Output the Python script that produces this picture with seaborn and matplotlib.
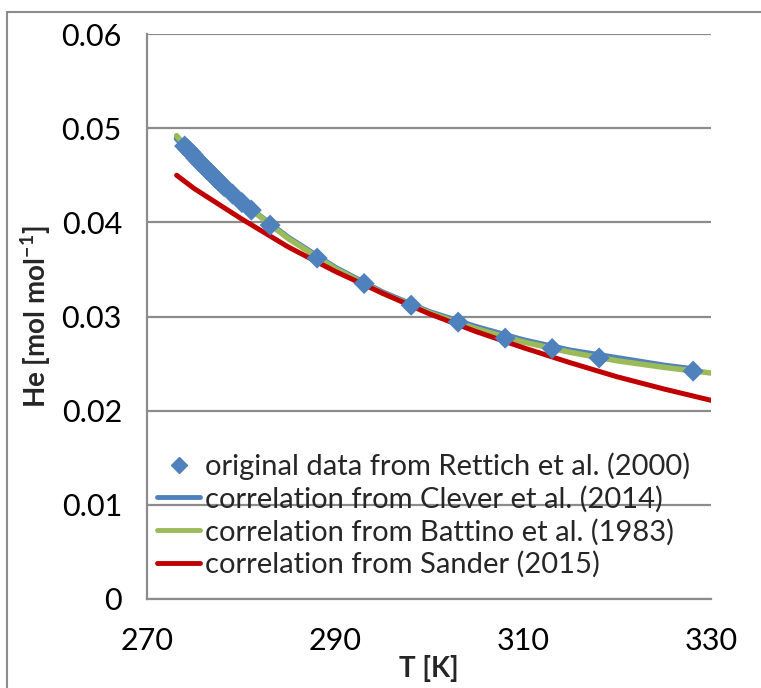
import matplotlib
matplotlib.use("Agg")
import matplotlib.pyplot as plt
import seaborn as sns
import pandas as pd
from matplotlib.lines import Line2D

# --- data ---
T_data = [274.0, 274.3, 274.6, 274.9, 275.2, 275.5, 275.8, 276.1, 276.4, 276.7,
          277.0, 277.3, 277.6, 277.9, 278.2, 279.1, 280.1, 281.1, 283.1, 288.1,
          293.1, 298.1, 303.1, 308.1, 313.1, 318.1, 328.1]
He_data = [0.0481, 0.0478, 0.0475, 0.0472, 0.0468, 0.0465, 0.0462, 0.0459, 0.0456, 0.0453,
           0.0450, 0.0447, 0.0444, 0.0441, 0.0438, 0.0430, 0.0421, 0.0413, 0.0397, 0.0362,
           0.0335, 0.0312, 0.0294, 0.0277, 0.0266, 0.0256, 0.0242]

T_clever = [273.15, 275, 280, 285, 290, 295, 300, 305, 310, 315, 320, 325, 328.15]
He_clever = [0.0489, 0.0470, 0.0422, 0.0384, 0.0352, 0.0326, 0.0305, 0.0289, 0.0275, 0.0264, 0.0256, 0.0248, 0.0244]

T_battino = [273.15, 275, 280, 285, 290, 295, 300, 305, 310, 315, 320, 325, 330]
He_battino = [0.0492, 0.0470, 0.0422, 0.0383, 0.0351, 0.0325, 0.0304, 0.0287, 0.0273, 0.0262, 0.0253, 0.0246, 0.0240]

T_sander = [273.15, 275, 280, 285, 290, 295, 300, 305, 310, 315, 320, 325, 330]
He_sander = [0.0450, 0.0436, 0.0404, 0.0374, 0.0348, 0.0325, 0.0303, 0.0284, 0.0267, 0.0251, 0.0236, 0.0223, 0.0211]

x_ticks = [270, 290, 310, 330]
y_ticks = [0, 0.01, 0.02, 0.03, 0.04, 0.05, 0.06]
y_tick_labels = ["0", "0.01", "0.02", "0.03", "0.04", "0.05", "0.06"]
labels = ["original data from Rettich et al. (2000)",
          "correlation from Clever et al. (2014)",
          "correlation from Battino et al. (1983)",
          "correlation from Sander (2015)"]

c_blue, c_green, c_red = "#4F81BD", "#9BBB59", "#C00000"
grid_c = "#8C8C8C"

sns.set_theme(style="white")
plt.rcParams['font.family'] = ['Lato', 'DejaVu Sans']
plt.rcParams['mathtext.fontset'] = 'custom'
plt.rcParams['mathtext.rm'] = 'Lato'
plt.rcParams['mathtext.bf'] = 'Lato:bold'

fig = plt.figure(figsize=(7.61, 6.88), dpi=100)
ax = fig.add_axes([147/761, 1-599/688, (711-147)/761, (599-34)/688])

df_c = pd.DataFrame({"T": T_clever, "He": He_clever})
df_b = pd.DataFrame({"T": T_battino, "He": He_battino})
df_s = pd.DataFrame({"T": T_sander, "He": He_sander})
df_d = pd.DataFrame({"T": T_data, "He": He_data})

sns.lineplot(data=df_c, x="T", y="He", ax=ax, color=c_blue, lw=4.2, zorder=3, estimator=None, sort=False)
sns.lineplot(data=df_b, x="T", y="He", ax=ax, color=c_green, lw=4.0, zorder=4, estimator=None, sort=False)
sns.lineplot(data=df_s, x="T", y="He", ax=ax, color=c_red, lw=3.6, zorder=4, estimator=None, sort=False)
sns.scatterplot(data=df_d, x="T", y="He", ax=ax, color=c_blue, marker="D", s=115,
                edgecolor="none", linewidth=0, zorder=5)

ax.set_xlim(270, 330)
ax.set_ylim(0, 0.06)
ax.set_xticks(x_ticks)
ax.set_yticks(y_ticks)
ax.set_xticklabels([str(v) for v in x_ticks])
ax.set_yticklabels(y_tick_labels)
ax.tick_params(axis="both", labelsize=22, colors="black", length=10, width=1.5, direction="out")
ax.tick_params(axis="x", pad=10, color=grid_c)
ax.tick_params(axis="y", pad=8, color=grid_c)
ax.yaxis.grid(True, color=grid_c, lw=1.6, zorder=1)
ax.xaxis.grid(False)
ax.set_axisbelow(True)
for s in ["top", "right"]:
    ax.spines[s].set_visible(False)
for s in ["left", "bottom"]:
    ax.spines[s].set_color(grid_c)
    ax.spines[s].set_linewidth(1.6)

ax.set_xlabel("T [K]", fontsize=20, fontweight="bold", labelpad=0)
ax.set_ylabel(r"He [mol mol$^{\mathbf{-1}}$]", fontsize=20, fontweight="bold", labelpad=6)

handles = [Line2D([], [], color=c_blue, marker="D", ls="none", markersize=8),
           Line2D([], [], color=c_blue, lw=3.5),
           Line2D([], [], color=c_green, lw=3.5),
           Line2D([], [], color=c_red, lw=3.5)]
leg = ax.legend(handles, labels, loc="lower left", bbox_to_anchor=(0.018, 0.037),
                frameon=False, fontsize=21, handlelength=1.47, handletextpad=0.17,
                labelspacing=0.2, borderaxespad=0, borderpad=0)

# outer chart border (left and top edges visible)
fig.add_artist(Line2D([7/761, 7/761], [0, 1-12/688], transform=fig.transFigure, color=grid_c, lw=1.5))
fig.add_artist(Line2D([7/761, 1], [1-12/688, 1-12/688], transform=fig.transFigure, color=grid_c, lw=1.5))

fig.savefig("out.png", dpi=100)
